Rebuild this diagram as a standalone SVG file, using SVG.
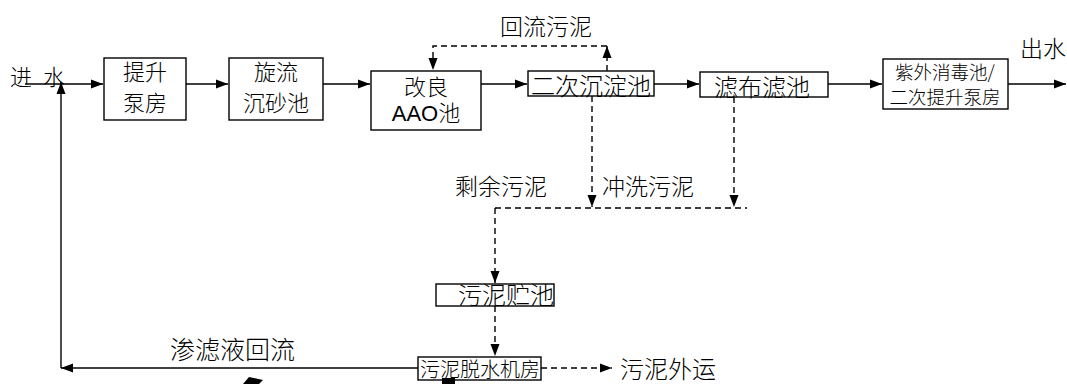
<svg xmlns="http://www.w3.org/2000/svg" width="1067" height="384" viewBox="0 0 1067 384">
<defs>
<marker id="ah" viewBox="0 0 12 10" refX="12" refY="5" markerWidth="12" markerHeight="10" markerUnits="userSpaceOnUse" orient="auto"><path d="M0,0.5 L12,5 L0,9.5 Z" fill="#000"/></marker>
<style>
.box{fill:#fff;stroke:#000;stroke-width:1.4}
.ln{fill:none;stroke:#000;stroke-width:1.4}
.ds{fill:none;stroke:#000;stroke-width:1.4;stroke-dasharray:6,4}
text{font-family:"Noto Sans CJK SC","Liberation Sans",sans-serif;font-weight:300;fill:#000;font-size:22px}
.c{text-anchor:middle}
</style>
</defs>
<rect width="1067" height="384" fill="#fff"/>
<g id="connectors">
<line class="ln" x1="25" y1="84" x2="103" y2="84" marker-end="url(#ah)"/>
<polyline class="ln" points="418,368 61,368" marker-end="url(#ah)"/>
<line class="ln" x1="61" y1="368" x2="61" y2="82" marker-end="url(#ah)"/>
<line class="ln" x1="186" y1="84" x2="228" y2="84" marker-end="url(#ah)"/>
<line class="ln" x1="323" y1="84" x2="370" y2="84" marker-end="url(#ah)"/>
<line class="ln" x1="481" y1="84" x2="527" y2="84" marker-end="url(#ah)"/>
<line class="ln" x1="654" y1="84" x2="699" y2="84" marker-end="url(#ah)"/>
<line class="ln" x1="828" y1="84" x2="882" y2="84" marker-end="url(#ah)"/>
<line class="ln" x1="1008" y1="84" x2="1066" y2="84" marker-end="url(#ah)"/>
<line class="ds" x1="607" y1="71" x2="607" y2="46" marker-end="url(#ah)"/>
<polyline class="ds" points="607,46 433,46 433,70" marker-end="url(#ah)"/>
<line class="ds" x1="592" y1="96" x2="592" y2="207" marker-end="url(#ah)"/>
<line class="ds" x1="734" y1="97" x2="734" y2="207" marker-end="url(#ah)"/>
<line class="ds" x1="495" y1="208" x2="747" y2="208"/>
<line class="ds" x1="495" y1="208" x2="495" y2="283" marker-end="url(#ah)"/>
<line class="ds" x1="495" y1="306" x2="495" y2="356" marker-end="url(#ah)"/>
<line class="ds" x1="541" y1="368" x2="612" y2="368" marker-end="url(#ah)"/>
</g>
<g id="n-in"><text x="10" y="85">进</text><text x="43" y="85">水</text></g>
<g id="n-lift"><rect class="box" x="104" y="58" width="82" height="62"/><text class="c" x="145" y="80">提升</text><text class="c" x="145" y="111">泵房</text></g>
<g id="n-grit"><rect class="box" x="229" y="58" width="94" height="62"/><text class="c" x="276" y="80">旋流</text><text class="c" x="276" y="111">沉砂池</text></g>
<g id="n-aao"><rect class="box" x="371" y="71" width="110" height="59"/><text class="c" x="426" y="95">改良</text><text class="c" x="426" y="121" style="font-family:'Liberation Sans','Noto Sans CJK SC',sans-serif;font-weight:400">AAO<tspan style="font-family:'Noto Sans CJK SC',sans-serif;font-weight:300">池</tspan></text></g>
<g id="n-sec"><rect class="box" x="528" y="71" width="126" height="25"/><text class="c" x="591" y="95" style="font-size:24px">二次沉淀池</text></g>
<g id="n-filter"><rect class="box" x="700" y="72" width="128" height="25"/><text class="c" x="762" y="96" style="font-size:24px">滤布滤池</text></g>
<g id="n-uv"><rect class="box" x="883" y="59" width="125" height="50"/><text class="c" x="945" y="79" style="font-size:18.5px">紫外消毒池/</text><text class="c" x="945" y="104" style="font-size:18.5px">二次提升泵房</text></g>
<g id="n-out"><text x="1020" y="57" style="font-size:23px">出水</text></g>
<g id="l-return"><text x="500" y="35" style="font-size:23px">回流污泥</text></g>
<g id="l-excess"><text x="455" y="195" style="font-size:23px">剩余污泥</text></g>
<g id="l-wash"><text x="602" y="195" style="font-size:23px">冲洗污泥</text></g>
<g id="n-store"><rect class="box" x="436" y="284" width="118" height="22"/><text x="458" y="304" style="font-size:24px">污泥贮池</text></g>
<g id="n-dewater"><rect class="box" x="418" y="357" width="123" height="23"/><text class="c" x="480" y="377" style="font-size:20px">污泥脱水机房</text></g>
<g id="l-ship"><text x="620" y="378" style="font-size:24px">污泥外运</text></g>
<g id="l-leach"><text x="170" y="359" style="font-size:25px">渗滤液回流</text></g>
<polygon points="243,384 249,377 263,380 259,384" fill="#000"/>
<rect x="442" y="378" width="13" height="6" fill="#000"/>
</svg>
